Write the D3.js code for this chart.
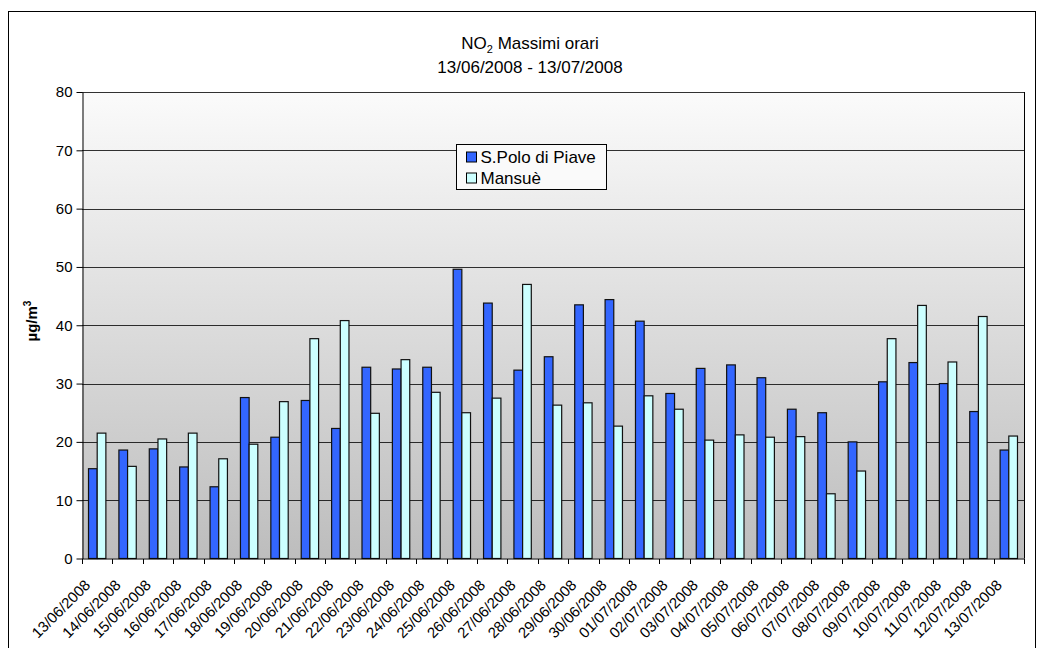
<!DOCTYPE html>
<html>
<head>
<meta charset="utf-8">
<script src="https://cdn.jsdelivr.net/npm/d3@7/dist/d3.min.js"></script>
<style>
  html, body { margin: 0; padding: 0; background: #ffffff; }
  svg { display: block; font-family: "Liberation Sans", Arial, sans-serif; }
</style>
</head>
<body>
<svg id="chart" width="1037" height="648"></svg>
<script>
// Daily maximum hourly NO2 concentrations (µg/m³)
const dates = [
  "13/06/2008","14/06/2008","15/06/2008","16/06/2008","17/06/2008","18/06/2008",
  "19/06/2008","20/06/2008","21/06/2008","22/06/2008","23/06/2008","24/06/2008",
  "25/06/2008","26/06/2008","27/06/2008","28/06/2008","29/06/2008","30/06/2008",
  "01/07/2008","02/07/2008","03/07/2008","04/07/2008","05/07/2008","06/07/2008",
  "07/07/2008","08/07/2008","09/07/2008","10/07/2008","11/07/2008","12/07/2008",
  "13/07/2008"
];
const sPolo = [
  15.4, 18.6, 18.8, 15.7, 12.3, 27.6, 20.8, 27.1, 22.3, 32.8, 32.5, 32.8,
  49.6, 43.8, 32.3, 34.6, 43.5, 44.4, 40.7, 28.3, 32.6, 33.2, 31.0, 25.6,
  25.0, 20.0, 30.3, 33.6, 30.0, 25.2, 18.6
];
const mansue = [
  21.5, 15.8, 20.5, 21.5, 17.1, 19.6, 26.9, 37.7, 40.8, 24.9, 34.1, 28.5,
  25.0, 27.5, 47.0, 26.3, 26.7, 22.7, 27.9, 25.6, 20.3, 21.2, 20.8, 20.9,
  11.1, 15.0, 37.7, 43.4, 33.7, 41.5, 21.0
];
const seriesNames = ["S.Polo di Piave", "Mansuè"];
const seriesColors = ["#3366ff", "#ccffff"];
const yTicks = [0, 10, 20, 30, 40, 50, 60, 70, 80];

const svg = d3.select("#chart");
const plot = { left: 82, right: 1024, top: 92, bottom: 558.5 };

// Outer chart frame
svg.append("rect")
  .attr("x", 8.5).attr("y", 11.5)
  .attr("width", 1027).attr("height", 650)
  .attr("fill", "#ffffff").attr("stroke", "#000").attr("stroke-width", 1);

// Plot background gradient
const defs = svg.append("defs");
const grad = defs.append("linearGradient")
  .attr("id", "bg").attr("x1", 0).attr("y1", 0).attr("x2", 0).attr("y2", 1);
grad.append("stop").attr("offset", "0%").attr("stop-color", "#fbfbfb");
grad.append("stop").attr("offset", "100%").attr("stop-color", "#bdbdbd");

svg.append("rect")
  .attr("x", plot.left).attr("y", plot.top)
  .attr("width", plot.right - plot.left).attr("height", plot.bottom - plot.top)
  .attr("fill", "url(#bg)");

const x = d3.scaleBand()
  .domain(dates)
  .range([plot.left, plot.right])
  .paddingInner(0).paddingOuter(0);

const y = d3.scaleLinear().domain([0, 80]).range([plot.bottom, plot.top]);

// Horizontal gridlines
svg.append("g")
  .selectAll("line")
  .data(yTicks.filter(t => t > 0))
  .join("line")
  .attr("x1", plot.left).attr("x2", plot.right)
  .attr("y1", d => Math.round(y(d)) + 0.5).attr("y2", d => Math.round(y(d)) + 0.5)
  .attr("stroke", "#000").attr("stroke-opacity", 0.8).attr("stroke-width", 1);

// Right border of the plot area
svg.append("line")
  .attr("x1", plot.right + 0.5).attr("x2", plot.right + 0.5)
  .attr("y1", plot.top).attr("y2", plot.bottom)
  .attr("stroke", "#000").attr("stroke-width", 1);

// Bars: two per date, gap of 150% of a bar width
const inner = d3.scaleBand()
  .domain([0, 1])
  .range([0, x.bandwidth()])
  .paddingInner(0)
  .paddingOuter(0.75);

const series = [sPolo, mansue];
series.forEach((vals, si) => {
  svg.append("g")
    .selectAll("rect")
    .data(vals)
    .join("rect")
    .attr("x", (d, i) => x(dates[i]) + inner(si))
    .attr("y", d => y(d))
    .attr("width", inner.bandwidth())
    .attr("height", d => y(0) - y(d))
    .attr("fill", seriesColors[si])
    .attr("stroke", "#111")
    .attr("stroke-width", 1.2);
});

// Y axis
const yAxis = d3.axisLeft(y).tickValues(yTicks).tickSize(6).tickPadding(4).tickSizeOuter(0);
const gy = svg.append("g")
  .attr("transform", `translate(${plot.left + 0.5},0)`)
  .call(yAxis);
gy.select(".domain").attr("stroke", "#000");
gy.selectAll(".tick line").attr("stroke", "#000");
gy.selectAll(".tick text")
  .attr("font-size", 15).attr("fill", "#000")
  .attr("font-family", "'Liberation Sans', Arial, sans-serif");

// X axis with ticks at band boundaries
const gx = svg.append("g")
  .attr("transform", `translate(0,${plot.bottom + 0.5})`);
gx.append("line")
  .attr("x1", plot.left).attr("x2", plot.right + 1)
  .attr("stroke", "#000");
const boundaries = dates.map(d => x(d)).concat([plot.right]);
gx.selectAll("line.tk")
  .data(boundaries)
  .join("line")
  .attr("class", "tk")
  .attr("x1", d => Math.round(d) + 0.5).attr("x2", d => Math.round(d) + 0.5)
  .attr("y1", 0).attr("y2", 5)
  .attr("stroke", "#000");

gx.selectAll("text")
  .data(dates)
  .join("text")
  .attr("transform", d => `translate(${x(d) + x.bandwidth() / 2 - 6},27) rotate(-45)`)
  .attr("text-anchor", "end")
  .attr("font-size", 15)
  .attr("fill", "#000")
  .text(d => d);

// Title
const title = svg.append("text")
  .attr("x", 530).attr("y", 49)
  .attr("text-anchor", "middle")
  .attr("font-size", 17).attr("fill", "#000");
title.append("tspan").text("NO");
title.append("tspan").attr("font-size", 11).attr("dy", 4).text("2");
title.append("tspan").attr("dy", -4).text(" Massimi orari");

svg.append("text")
  .attr("x", 530).attr("y", 73)
  .attr("text-anchor", "middle")
  .attr("font-size", 17).attr("fill", "#000")
  .text("13/06/2008 - 13/07/2008");

// Y axis label
const yl = svg.append("text")
  .attr("transform", "translate(37,321) rotate(-90)")
  .attr("text-anchor", "middle")
  .attr("font-size", 15).attr("font-weight", "bold").attr("fill", "#000");
yl.append("tspan").text("µg/m");
yl.append("tspan").attr("font-size", 10).attr("dy", -6).text("3");

// Legend
const lg = svg.append("g").attr("transform", "translate(456.5,144.5)");
lg.append("rect")
  .attr("width", 150).attr("height", 45)
  .attr("fill", "#fafafa").attr("stroke", "#000").attr("stroke-width", 1);
seriesNames.forEach((name, i) => {
  const row = lg.append("g").attr("transform", `translate(10,${7.5 + i * 21})`);
  row.append("rect")
    .attr("width", 10).attr("height", 10)
    .attr("fill", seriesColors[i]).attr("stroke", "#000");
  row.append("text")
    .attr("x", 14).attr("y", 10.5)
    .attr("font-size", 17).attr("fill", "#000")
    .text(name);
});
</script>
</body>
</html>
